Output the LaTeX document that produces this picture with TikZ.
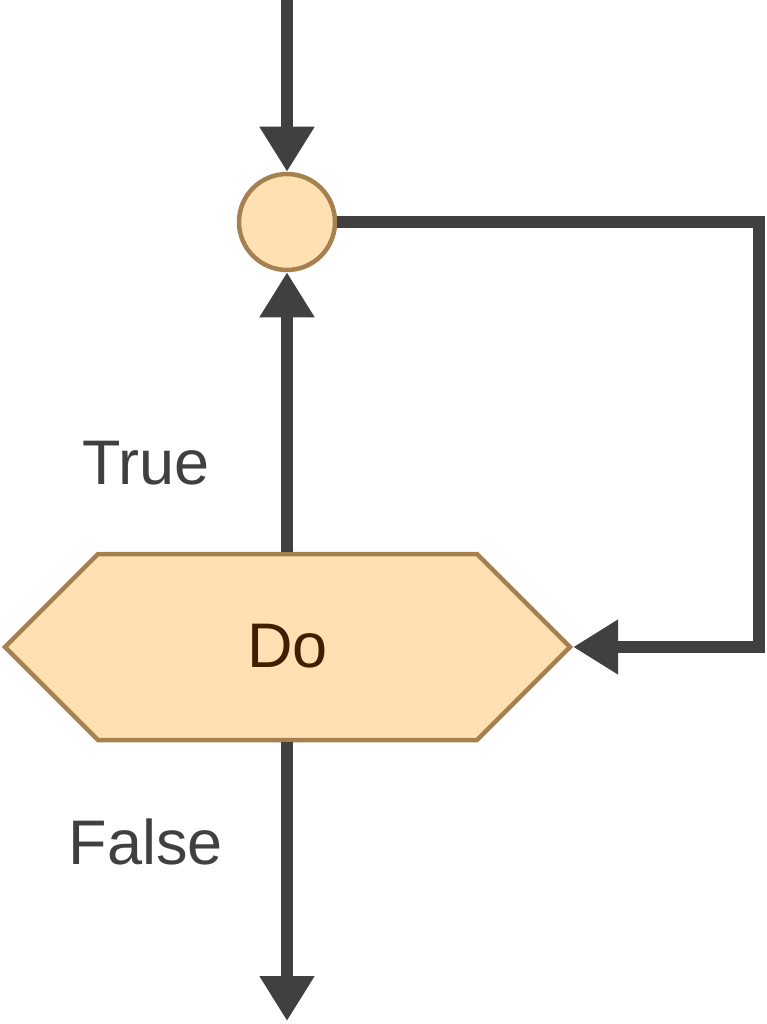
\documentclass[tikz,border=0pt]{standalone}
\usepackage{fontspec}
\setmainfont{Liberation Sans}
\usetikzlibrary{shapes.symbols}
\usetikzlibrary{arrows.meta}
\definecolor{boxfill}{HTML}{FFE0B2}
\definecolor{boxline}{HTML}{A6814F}
\definecolor{flowline}{HTML}{404040}
\definecolor{dotext}{HTML}{3F1F00}

\begin{document}
\begin{tikzpicture}[x=1pt,y=-1pt,
  flow/.style={draw=flowline, line width=12pt, -{Triangle[length=45pt,width=52pt]}},
  lbl/.style={text=flowline, font=\fontsize{63}{70}\selectfont}]
\useasboundingbox (0,0) rectangle (766,1024);

\node (join) [circle, draw=boxline, fill=boxfill, line width=4.5pt, minimum size=96pt, inner sep=0] at (287,222) {};
\node (do) [signal, signal to=west and east, signal pointer angle=90, draw=boxline, fill=boxfill, line width=4.5pt,
  minimum width=565pt, minimum height=186pt, inner sep=0, text height=40pt, text depth=0pt, text=dotext,
  font=\fontsize{63}{70}\selectfont] at (287.5,647) {Do};
\coordinate (start) at (287,0);
\coordinate (end) at (287,1021);
\coordinate (c1) at (759,222);
\coordinate (c2) at (759,647);

\node (true) [lbl] at (146,463) {True};
\node (false) [lbl] at (146,842) {False};

\draw[flow] (start) -- (join);
\draw[flow] (do.north -| join) -- (join);
\draw[flow] (join.east) -- (c1) -- (c2) -- (do.east);
\draw[flow] (do.south -| join) -- (end);

\end{tikzpicture}
\end{document}
